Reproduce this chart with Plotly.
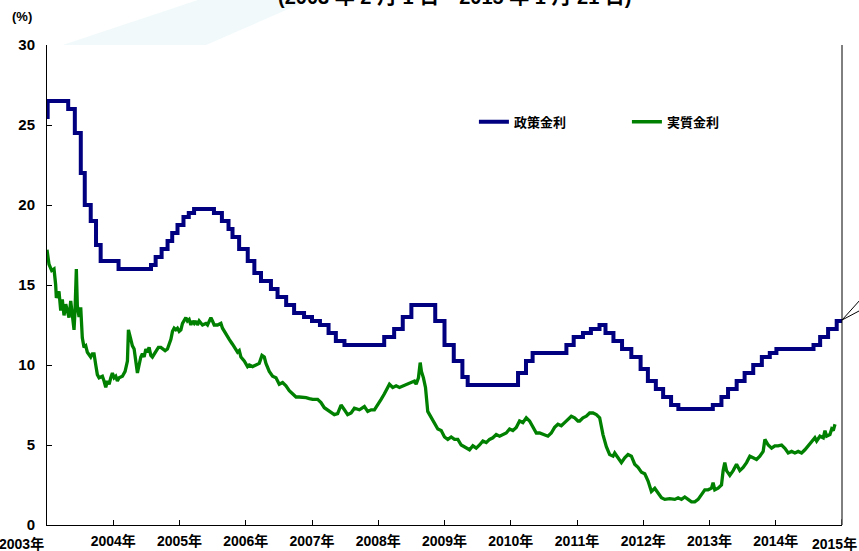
import plotly.graph_objects as go

# ---- data (decimal years, %) ----
policy_x = [2003.00, 2003.01, 2003.32, 2003.42, 2003.51, 2003.57, 2003.66, 2003.74, 2003.81,
            2004.08, 2004.57, 2004.64, 2004.73, 2004.82, 2004.89, 2004.97, 2005.06, 2005.14, 2005.22,
            2005.52, 2005.64, 2005.74, 2005.80, 2005.90, 2006.03, 2006.13, 2006.23, 2006.38, 2006.48,
            2006.61, 2006.73, 2006.88, 2007.00, 2007.12, 2007.25, 2007.36, 2007.49,
            2008.09, 2008.24, 2008.37, 2008.50, 2008.86, 2009.00, 2009.14, 2009.27, 2009.35,
            2010.11, 2010.23, 2010.33, 2010.84, 2010.95, 2011.09, 2011.21, 2011.34,
            2011.43, 2011.55, 2011.68, 2011.82, 2011.96, 2012.07, 2012.19, 2012.30, 2012.42, 2012.53,
            2013.05, 2013.18, 2013.28, 2013.41, 2013.53, 2013.66, 2013.79, 2013.91, 2014.01,
            2014.57, 2014.67, 2014.79, 2014.92, 2015.00]
policy_rate = [25.5, 26.5, 26.0, 24.5, 22.0, 20.0, 19.0, 17.5, 16.5,
               16.0, 16.25, 16.75, 17.25, 17.75, 18.25, 18.75, 19.25, 19.5, 19.75,
               19.5, 19.0, 18.5, 18.0, 17.25, 16.5, 15.75, 15.25, 14.75, 14.25,
               13.75, 13.25, 13.0, 12.75, 12.5, 12.0, 11.5, 11.25,
               11.75, 12.25, 13.0, 13.75, 12.75, 11.25, 10.25, 9.25, 8.75,
               9.5, 10.25, 10.75, 11.25, 11.75, 12.0, 12.25, 12.5,
               12.0, 11.5, 11.0, 10.5, 9.75, 9.0, 8.5, 8.0, 7.5, 7.25,
               7.5, 8.0, 8.5, 9.0, 9.5, 10.0, 10.5, 10.75, 11.0,
               11.25, 11.75, 12.25, 12.75, 12.75]

real_x = [2003.00, 2003.03, 2003.071, 2003.106, 2003.131, 2003.141, 2003.181, 2003.207, 2003.231,
          2003.257, 2003.283, 2003.307, 2003.332, 2003.358, 2003.382, 2003.408, 2003.423, 2003.443,
          2003.458, 2003.484, 2003.509, 2003.533, 2003.559, 2003.585, 2003.609, 2003.635, 2003.660,
          2003.685, 2003.710, 2003.736, 2003.760, 2003.786, 2003.836, 2003.861, 2003.887, 2003.911,
          2003.937, 2003.963, 2003.987, 2004.013, 2004.038, 2004.062, 2004.088, 2004.138, 2004.179,
          2004.214, 2004.229, 2004.265, 2004.289, 2004.315, 2004.341, 2004.365, 2004.390, 2004.416,
          2004.440, 2004.466, 2004.492, 2004.516, 2004.541, 2004.567, 2004.591, 2004.617, 2004.643,
          2004.682, 2004.718, 2004.743, 2004.783, 2004.818, 2004.844, 2004.870, 2004.894, 2004.919,
          2004.945, 2004.969, 2004.995, 2005.021, 2005.045, 2005.070, 2005.096, 2005.120, 2005.146,
          2005.172, 2005.196, 2005.222, 2005.247, 2005.271, 2005.297, 2005.347, 2005.398, 2005.423,
          2005.448, 2005.474, 2005.498, 2005.524, 2005.574, 2005.625, 2005.649, 2005.701, 2005.751,
          2005.800, 2005.852, 2005.876, 2005.902, 2005.927, 2005.977, 2006.027, 2006.053, 2006.103,
          2006.154, 2006.204, 2006.245, 2006.280, 2006.305, 2006.355, 2006.405, 2006.456, 2006.481,
          2006.506, 2006.556, 2006.607, 2006.657, 2006.707, 2006.759, 2006.808, 2006.858, 2006.910,
          2006.960, 2007.010, 2007.085, 2007.136, 2007.186, 2007.262, 2007.337, 2007.387, 2007.439,
          2007.489, 2007.538, 2007.590, 2007.640, 2007.715, 2007.791, 2007.841, 2007.892, 2007.942,
          2007.992, 2008.043, 2008.093, 2008.143, 2008.169, 2008.219, 2008.270, 2008.320, 2008.370,
          2008.421, 2008.497, 2008.546, 2008.572, 2008.607, 2008.633, 2008.652, 2008.682, 2008.713,
          2008.747, 2008.799, 2008.849, 2008.899, 2008.950, 2009.000, 2009.050, 2009.101, 2009.151,
          2009.201, 2009.252, 2009.328, 2009.378, 2009.428, 2009.479, 2009.529, 2009.579, 2009.630,
          2009.680, 2009.730, 2009.781, 2009.831, 2009.881, 2009.932, 2009.982, 2010.032, 2010.083,
          2010.133, 2010.183, 2010.234, 2010.284, 2010.334, 2010.386, 2010.436, 2010.511, 2010.561,
          2010.612, 2010.662, 2010.712, 2010.763, 2010.813, 2010.863, 2010.914, 2010.964, 2011.014,
          2011.040, 2011.090, 2011.141, 2011.191, 2011.242, 2011.292, 2011.342, 2011.392, 2011.443,
          2011.493, 2011.544, 2011.569, 2011.619, 2011.670, 2011.720, 2011.770, 2011.821, 2011.871,
          2011.921, 2011.973, 2012.023, 2012.073, 2012.123, 2012.174, 2012.224, 2012.275, 2012.325,
          2012.400, 2012.476, 2012.526, 2012.577, 2012.627, 2012.677, 2012.728, 2012.778, 2012.828,
          2012.879, 2012.929, 2012.979, 2013.030, 2013.054, 2013.080, 2013.130, 2013.181, 2013.206,
          2013.231, 2013.257, 2013.307, 2013.357, 2013.408, 2013.458, 2013.508, 2013.559, 2013.609,
          2013.659, 2013.710, 2013.760, 2013.810, 2013.836, 2013.886, 2013.937, 2013.987, 2014.037,
          2014.088, 2014.138, 2014.188, 2014.239, 2014.289, 2014.339, 2014.390, 2014.440, 2014.490,
          2014.541, 2014.591, 2014.617, 2014.667, 2014.717, 2014.743, 2014.768, 2014.818, 2014.844,
          2014.868, 2014.894]
real_rate = [17.2, 16.3, 15.9, 16.0, 15.0, 14.2, 14.6, 13.4, 14.1,
             13.1, 13.8, 13.3, 12.96, 14.0, 13.0, 12.2, 13.4, 16.0,
             13.7, 13.0, 13.6, 11.7, 11.1, 11.2, 10.8, 10.6, 10.5,
             10.7, 10.7, 10.0, 9.4, 9.2, 9.3, 9.0, 8.6, 9.0,
             8.8, 9.2, 9.5, 9.2, 9.3, 9.0, 9.2, 9.3, 9.6,
             10.25, 12.2, 11.6, 11.2, 11.0, 10.25, 9.5, 10.0, 10.5,
             10.7, 10.5, 11.0, 10.8, 11.1, 10.6, 10.5, 10.7, 10.9,
             11.1, 11.1, 11.0, 10.9, 11.0, 11.3, 11.6, 12.1, 12.3,
             12.2, 12.3, 12.1, 12.2, 12.6, 12.75, 12.96, 12.75, 12.85,
             12.5, 12.75, 12.6, 12.75, 12.5, 12.75, 12.5, 12.6, 12.5,
             12.75, 12.96, 12.75, 12.5, 12.5, 12.6, 12.3, 11.9, 11.6,
             11.3, 11.0, 10.8, 10.9, 10.5, 10.25, 9.9, 10.0, 9.9,
             10.0, 10.1, 10.6, 10.5, 10.1, 9.6, 9.3, 9.2, 9.0,
             8.8, 8.9, 8.7, 8.4, 8.2, 8.0, 8.0, 8.0, 7.96,
             7.9, 7.85, 7.85, 7.65, 7.33, 7.1, 6.9, 6.96, 7.5,
             7.2, 6.9, 7.0, 7.3, 7.2, 7.4, 7.1, 7.2, 7.2,
             7.5, 7.85, 8.2, 8.6, 8.8, 8.6, 8.7, 8.6, 8.7,
             8.75, 8.9, 9.0, 8.8, 9.2, 10.15, 9.6, 9.2, 8.6,
             7.1, 6.7, 6.3, 6.0, 5.9, 5.5, 5.35, 5.5, 5.35,
             5.35, 5.0, 4.8, 4.7, 4.95, 4.8, 5.0, 5.25, 5.15,
             5.35, 5.45, 5.65, 5.55, 5.65, 5.75, 6.0, 5.9, 6.1,
             6.5, 6.4, 6.7, 6.5, 6.1, 5.75, 5.75, 5.65, 5.55,
             5.75, 6.1, 6.3, 6.2, 6.4, 6.6, 6.8, 6.7, 6.5,
             6.5, 6.7, 6.8, 7.0, 7.0, 6.9, 6.7, 5.65, 4.9,
             4.4, 4.3, 4.5, 4.2, 3.9, 4.2, 4.4, 4.3, 3.8,
             3.6, 3.3, 3.2, 2.75, 2.1, 2.3, 2.0, 1.7, 1.6,
             1.65, 1.6, 1.7, 1.6, 1.75, 1.6, 1.45, 1.45, 1.6,
             1.9, 2.2, 2.2, 2.3, 2.65, 2.2, 2.3, 2.5, 3.4,
             3.9, 3.4, 3.1, 3.4, 3.8, 3.4, 3.6, 3.9, 4.3,
             4.2, 4.1, 4.3, 4.6, 5.35, 5.0, 4.8, 4.95, 4.95,
             5.0, 4.8, 4.5, 4.6, 4.5, 4.6, 4.5, 4.7, 4.95,
             5.15, 5.45, 5.25, 5.55, 5.45, 5.9, 5.55, 5.65, 6.0,
             5.9, 6.3]

year_ticks = list(range(2003, 2016))
year_labels = [f"{y}年" for y in year_ticks]
y_ticks = [0, 5, 10, 15, 20, 25, 30]

series_names = ["政策金利", "実質金利"]
title_text = "(2003 年 2 月 1 日～2015 年 1 月 21 日)"

FONT = "Liberation Sans, Arial, Noto Sans CJK JP, sans-serif"

fig = go.Figure()
fig.add_trace(go.Scatter(x=policy_x, y=policy_rate, mode="lines", name=series_names[0],
                         line=dict(color="#000080", width=4, shape="hv")))
fig.add_trace(go.Scatter(x=real_x, y=real_rate, mode="lines", name=series_names[1],
                         line=dict(color="#008000", width=3.3)))

# faint background decoration
fig.add_shape(type="path", xref="paper", yref="paper", layer="below",
              path="M 0.02,1.0 L 0.2,1.0 L 0.33,1.094 L 0.19,1.094 Z",
              fillcolor="rgba(232,245,248,0.6)", line_width=0)

# right border
fig.add_shape(type="line", xref="paper", yref="paper", x0=1, x1=1, y0=0, y1=1,
              line=dict(color="black", width=1))
# arrow pointer at right edge
fig.add_shape(type="line", xref="paper", yref="paper", x0=1.0, y0=0.427, x1=1.025, y1=0.473,
              line=dict(color="black", width=1))
fig.add_shape(type="line", xref="paper", yref="paper", x0=1.0, y0=0.427, x1=1.025, y1=0.449,
              line=dict(color="black", width=1))

annotations = [
    dict(text="(%)", x=-0.047, y=1.04, xref="paper", yref="paper", xanchor="left", yanchor="bottom",
         showarrow=False, font=dict(family=FONT, size=13, color="black", weight="bold")),
    dict(text=title_text, x=0.513, y=1.073, xref="paper", yref="paper", xanchor="center", yanchor="bottom",
         showarrow=False, font=dict(family=FONT, size=20, color="black", weight="bold")),
    dict(text=year_labels[0], x=year_ticks[0], y=0, xref="x", yref="paper", xanchor="right", yanchor="top",
         xshift=-1, yshift=-9, showarrow=False, font=dict(family=FONT, size=14, color="black", weight="bold")),
    dict(text=year_labels[-1], x=year_ticks[-1], y=0, xref="x", yref="paper", xanchor="right", yanchor="top",
         xshift=17, yshift=-9, showarrow=False, font=dict(family=FONT, size=14, color="black", weight="bold")),
]

fig.update_layout(
    width=859, height=551,
    margin=dict(l=47, r=17, t=45, b=26, autoexpand=False),
    paper_bgcolor="white", plot_bgcolor="white",
    font=dict(family=FONT, size=13, color="black"),
    showlegend=True,
    legend=dict(orientation="h", x=0.537, y=0.84, xanchor="left", yanchor="middle",
                bgcolor="rgba(0,0,0,0)", entrywidth=108, entrywidthmode="pixels",
                font=dict(family=FONT, size=13, color="black", weight="bold")),
    annotations=annotations,
)
fig.update_xaxes(range=[2003, 2015], tickmode="array", tickvals=year_ticks[1:-1],
                 ticktext=year_labels[1:-1], ticks="inside", ticklen=5, tickcolor="black",
                 showline=True, linecolor="black", linewidth=1, showgrid=False, zeroline=False,
                 automargin=False, ticklabelstandoff=3,
                 tickfont=dict(family=FONT, size=14, color="black", weight="bold"))
fig.add_shape(type="line", xref="x", yref="paper", x0=2015, x1=2015, y0=0, y1=0.012,
              line=dict(color="black", width=1))
fig.update_yaxes(range=[0, 30], tickvals=y_ticks, ticks="inside", ticklen=5, tickcolor="black",
                 showline=True, linecolor="black", linewidth=1, showgrid=False, zeroline=False,
                 ticklabelstandoff=8, automargin=False,
                 tickfont=dict(family=FONT, size=15, color="black", weight="bold"))

fig.write_html("out.html", config={"displayModeBar": False},
               post_script="document.body.style.margin='0';document.body.style.padding='0';"
                           "document.body.style.overflow='hidden';")
